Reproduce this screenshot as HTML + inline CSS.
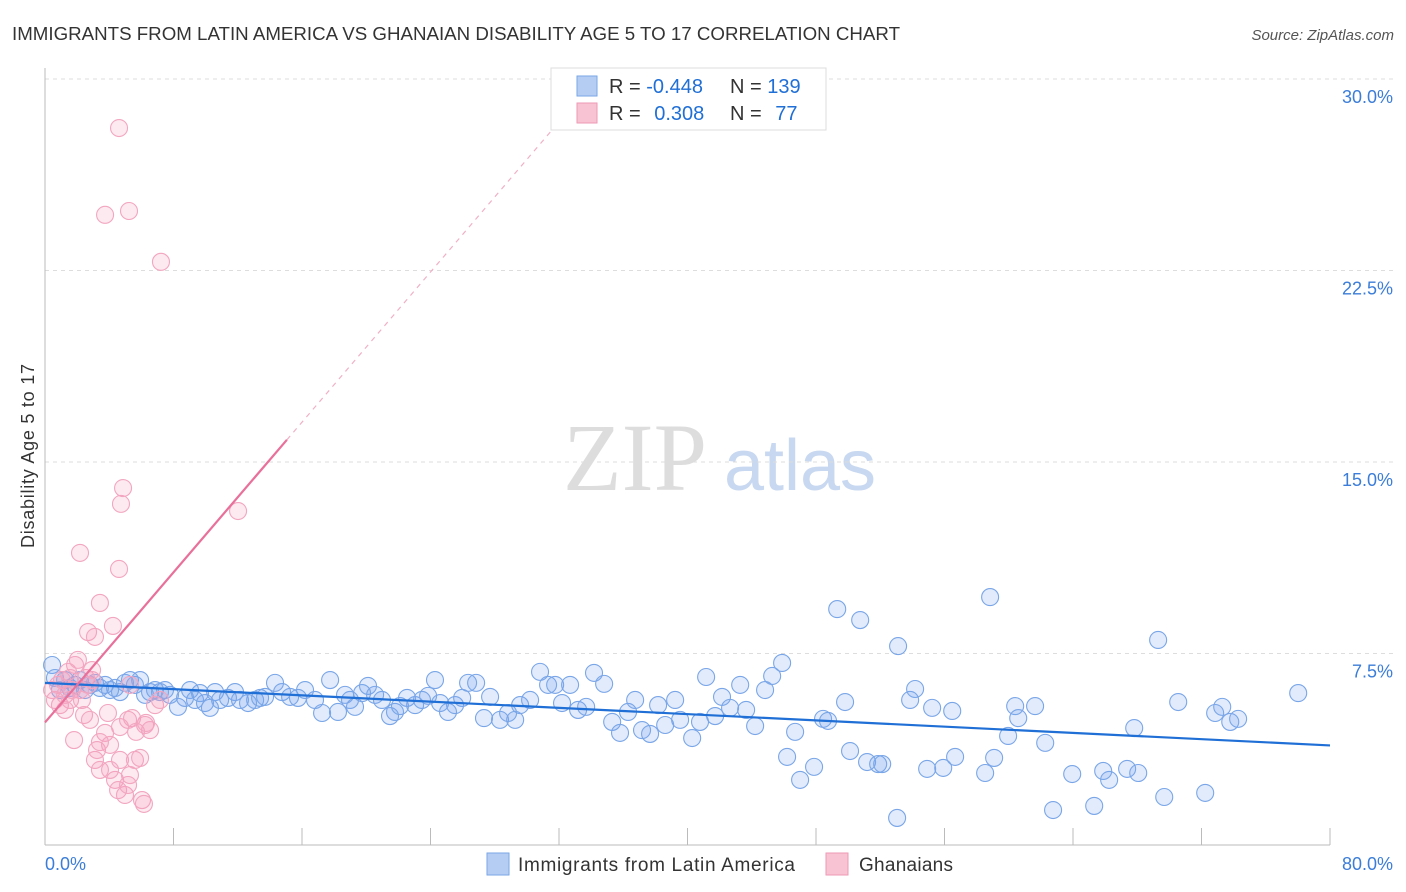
<!DOCTYPE html>
<html><head><meta charset="utf-8"><style>
body{margin:0;background:#fff;font-family:"Liberation Sans",sans-serif;}
svg{display:block}
</style></head><body>
<svg width="1406" height="892">
<text x="12" y="40" font-size="18" fill="#333" textLength="888" lengthAdjust="spacingAndGlyphs">IMMIGRANTS FROM LATIN AMERICA VS GHANAIAN DISABILITY AGE 5 TO 17 CORRELATION CHART</text>
<text x="1394" y="40" font-size="15" fill="#555" font-style="italic" text-anchor="end">Source: ZipAtlas.com</text>
<text x="0" y="0" transform="translate(34,456) rotate(-90)" font-size="18" fill="#333" text-anchor="middle" textLength="184">Disability Age 5 to 17</text>
<g>
<text x="635" y="490" font-size="96" fill="#ddd" font-family="Liberation Serif,serif" text-anchor="middle">ZIP</text>
<text x="800" y="490" font-size="72" fill="#c8d8f0" text-anchor="middle">atlas</text>
</g>
<g id="grid"></g><g id="axes"></g><g id="pts"></g><g id="lines"></g>
<g>
<rect x="551" y="68" width="275" height="62" fill="#fff" stroke="#ddd"/>
<rect x="577" y="76" width="20" height="20" fill="#b5cdf3" stroke="#7aa6e6"/>
<rect x="577" y="103" width="20" height="20" fill="#f8c3d3" stroke="#ef9ab6"/>
<text x="609" y="93" font-size="20" fill="#333">R = <tspan fill="#1f6fd6">-0.448</tspan></text>
<text x="730" y="93" font-size="20" fill="#333">N = <tspan fill="#1f6fd6">139</tspan></text>
<text x="609" y="120" font-size="20" fill="#333">R = <tspan fill="#1f6fd6" dx="8">0.308</tspan></text>
<text x="730" y="120" font-size="20" fill="#333">N = <tspan fill="#1f6fd6" dx="8">77</tspan></text>
</g>
<g>
<rect x="487" y="853" width="22" height="22" fill="#b5cdf3" stroke="#7aa6e6"/>
<text x="518" y="871" font-size="19" fill="#333" textLength="277">Immigrants from Latin America</text>
<rect x="826" y="853" width="22" height="22" fill="#f8c3d3" stroke="#ef9ab6"/>
<text x="859" y="871" font-size="19" fill="#333" textLength="94">Ghanaians</text>
</g>
</svg>
<script>
const yTicks=[7.5,15,22.5,30];
const yTickLabels=["7.5%","15.0%","22.5%","30.0%"];
const xTicks=[0,8,16,24,32,40,48,56,64,72,80];
const xEndLabels=["0.0%","80.0%"];
const blueX=[0.44,0.62,0.93,1.25,1.56,1.87,2.18,2.49,2.8,3.11,3.42,3.74,4.05,4.36,4.67,4.98,5.29,5.6,5.92,6.23,6.54,6.85,7.16,7.47,7.78,8.28,8.72,9.03,9.34,9.65,9.96,10.27,10.59,10.9,11.39,11.83,12.14,12.64,13.08,13.39,13.7,14.32,14.76,15.26,15.75,16.19,16.81,17.25,17.75,18.24,18.68,18.99,19.3,19.74,20.11,20.55,20.98,21.48,21.79,22.1,22.54,23.04,23.47,23.85,24.28,24.6,25.09,25.53,25.97,26.34,26.84,27.33,27.71,28.33,28.83,29.27,29.58,30.2,30.82,31.32,31.76,32.19,32.69,33.19,33.69,34.18,34.81,35.31,35.8,36.3,36.74,37.17,37.67,38.17,38.61,39.23,39.54,40.29,40.78,41.16,41.72,42.15,42.65,43.28,43.65,44.21,44.83,45.27,45.89,46.2,46.7,47.01,47.88,48.44,48.75,49.32,49.81,50.12,50.75,51.18,51.87,52.12,53.05,53.11,53.86,54.17,54.92,55.23,55.92,56.48,56.66,58.53,58.84,59.09,59.96,60.4,60.59,61.64,62.27,62.76,63.95,65.32,65.88,66.25,67.37,68.06,67.81,69.3,69.68,70.55,72.23,72.85,73.29,73.79,74.28,78.02];
const blueY=[7.05,6.54,6.07,6.46,6.15,6.27,6.46,6.07,6.27,6.35,6.15,6.27,6.07,6.15,5.99,6.35,6.46,6.27,6.46,5.88,5.99,6.07,5.99,6.07,5.88,5.41,5.76,6.07,5.68,5.95,5.56,5.37,5.99,5.68,5.76,5.99,5.68,5.56,5.68,5.76,5.8,6.35,5.99,5.8,5.76,6.07,5.68,5.17,6.46,5.21,5.88,5.68,5.41,5.95,6.23,5.88,5.68,5.05,5.21,5.44,5.76,5.48,5.68,5.84,6.46,5.56,5.21,5.48,5.76,6.35,6.35,4.97,5.8,4.9,5.17,4.9,5.48,5.68,6.78,6.27,6.27,5.56,6.27,5.29,5.41,6.74,6.31,4.82,4.39,5.21,5.68,4.5,4.35,5.48,4.7,5.68,4.9,4.19,4.82,6.58,5.05,5.8,5.37,6.27,5.29,4.66,6.07,6.62,7.13,3.45,4.43,2.55,3.06,4.94,4.86,9.24,5.6,3.68,8.81,3.25,3.17,3.17,1.06,7.79,5.68,6.11,2.98,5.37,3.02,5.25,3.45,2.82,9.71,3.41,4.27,5.44,4.97,5.44,4.0,1.37,2.78,1.53,2.9,2.55,2.98,2.82,4.58,8.03,1.88,5.6,2.04,5.17,5.41,4.82,4.94,5.95];
const pinkX=[0.44,0.62,0.81,0.93,1.06,1.25,1.43,1.56,1.68,1.87,2.05,2.18,2.3,2.43,2.55,2.68,2.8,2.93,3.11,3.24,3.42,3.74,3.92,4.05,4.36,4.55,4.67,4.98,5.17,5.29,5.6,5.92,6.04,6.23,6.54,6.85,7.16,2.18,2.68,3.11,3.42,4.23,4.61,4.73,4.86,5.17,5.42,6.16,4.61,3.74,5.23,7.22,12.02,3.42,4.05,4.67,5.29,5.67,6.29,2.93,1.56,1.25,1.81];
const pinkY=[6.07,5.68,6.27,5.48,6.46,5.88,6.78,5.68,6.07,7.05,7.25,6.07,5.68,5.09,6.54,6.27,4.9,6.46,3.33,3.72,2.94,4.39,5.17,3.92,2.55,2.15,3.33,1.96,2.35,2.74,3.33,3.41,1.76,4.7,4.5,5.48,5.68,11.44,8.34,8.15,9.48,8.58,10.81,13.36,13.98,4.9,4.97,1.61,28.08,24.68,24.83,22.84,13.08,4.03,2.94,4.62,6.27,4.43,4.78,6.85,6.54,5.29,4.11];
const blueTrend=[6.35,3.9];      // y at x=0 and x=80
const pinkTrend=[4.8,0.735];     // intercept, slope
const pinkSolidEnd=15.06, pinkDashEnd=33.2;

const NS="http://www.w3.org/2000/svg";
const sx=v=>45+v*(1330-45)/80;
const sy=v=>845-v*(845-79)/30;
function mk(tag,attrs,parent){const e=document.createElementNS(NS,tag);for(const k in attrs)e.setAttribute(k,attrs[k]);document.getElementById(parent).appendChild(e);return e;}
yTicks.forEach((t,i)=>{
  const l=mk('line',{x1:45,x2:1394,y1:sy(t),y2:sy(t),stroke:'#ddd','stroke-dasharray':'4,4'},'grid');
  
  
  const tx=mk('text',{x:1393,y:sy(t)+24,'font-size':18,fill:'#3b7dd8','text-anchor':'end'},'grid');
  tx.textContent=yTickLabels[i];
  
  
});
const ax=mk('line',{x1:45,x2:1330,y1:845,y2:845,stroke:'#bbb'},'axes');


const ay=mk('line',{x1:45,x2:45,y1:68,y2:845,stroke:'#bbb'},'axes');


xTicks.forEach(t=>{
  const l=mk('line',{x1:sx(t),x2:sx(t),y1:828,y2:845,stroke:'#bbb'},'axes');
  
  
});
const xl0=mk('text',{x:45,y:870,'font-size':18,fill:'#3b7dd8'},'axes');xl0.textContent=xEndLabels[0];


const xl1=mk('text',{x:1393,y:870,'font-size':18,fill:'#3b7dd8','text-anchor':'end'},'axes');xl1.textContent=xEndLabels[1];


blueX.forEach((x,i)=>{
  const c=mk('circle',{cx:sx(x),cy:sy(blueY[i]),r:8.5,fill:'rgba(120,165,235,0.22)',stroke:'#7aa6e8','stroke-width':1.1},'pts');
  
  
});
pinkX.forEach((x,i)=>{
  const c=mk('circle',{cx:sx(x),cy:sy(pinkY[i]),r:8.5,fill:'rgba(245,155,188,0.22)',stroke:'#f2a6c0','stroke-width':1.1},'pts');
  
  
});
const bl=mk('line',{x1:sx(0),y1:sy(blueTrend[0]),x2:sx(80),y2:sy(blueTrend[1]),stroke:'#1f6fd6','stroke-width':2.2},'lines');


const pl=mk('line',{x1:sx(0),y1:sy(pinkTrend[0]),x2:sx(pinkSolidEnd),y2:sy(pinkTrend[0]+pinkTrend[1]*pinkSolidEnd),stroke:'#e8709a','stroke-width':2.2},'lines');


const pd=mk('line',{x1:sx(pinkSolidEnd),y1:sy(pinkTrend[0]+pinkTrend[1]*pinkSolidEnd),x2:sx(pinkDashEnd),y2:sy(pinkTrend[0]+pinkTrend[1]*pinkDashEnd),stroke:'#f0b0c6','stroke-width':1.2,'stroke-dasharray':'5,5'},'lines');


</script>
</body></html>
